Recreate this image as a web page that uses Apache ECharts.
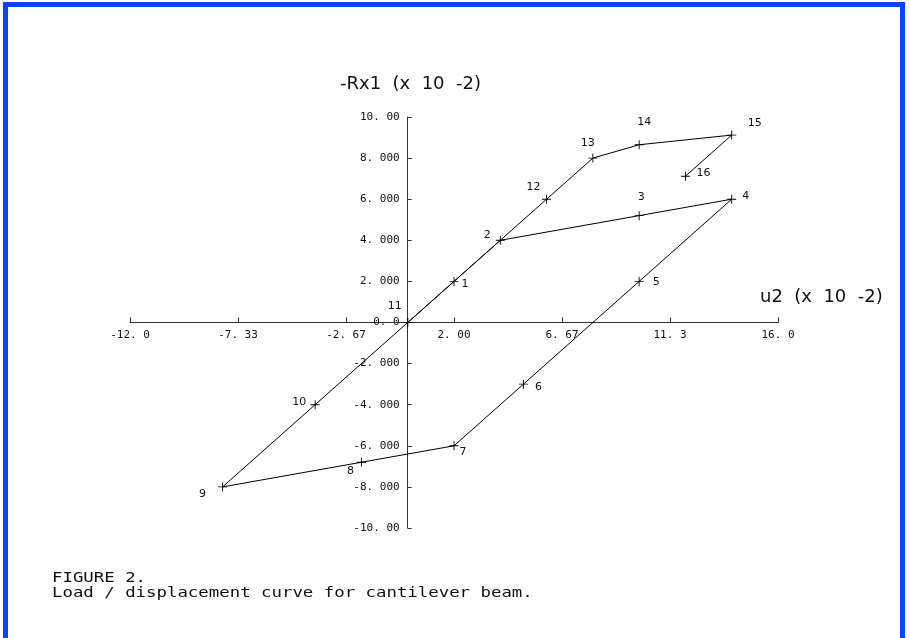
<!DOCTYPE html>
<html>
<head>
<meta charset="utf-8">
<script src="https://cdn.jsdelivr.net/npm/echarts@6/dist/echarts.min.js"></script>
<style>
html,body{margin:0;padding:0;background:#fff;}
#chart{width:910px;height:638px;}
</style>
</head>
<body>
<div id="chart"></div>
<script>
// ---- data ----
const xValues = [0, 2, 4, 10, 14, 10, 5, 2, -2, -8, -4, 0, 6, 8, 10, 14, 12];
const yValues = [0, 2, 4, 5.2, 6, 2, -3, -6, -6.8, -8, -4, 0, 6, 8, 8.65, 9.12, 7.12];
const pointLabels = ['', '1', '2', '3', '4', '5', '6', '7', '8', '9', '10', '11', '12', '13', '14', '15', '16'];
const xTicks = [-12, -7.3333, -2.6667, 2, 6.6667, 11.3333, 16];
const xTickLabels = ['-12. 0', '-7. 33', '-2. 67', '2. 00', '6. 67', '11. 3', '16. 0'];
const yTicks = [-10, -8, -6, -4, -2, 0, 2, 4, 6, 8, 10];
const yTickLabels = ['-10. 00', '-8. 000', '-6. 000', '-4. 000', '-2. 000', '0. 0', '2. 000', '4. 000', '6. 000', '8. 000', '10. 00'];
const xName = 'u2  (x  10  -2)';
const yName = '-Rx1  (x  10  -2)';
const captionLines = ['FIGURE 2.', 'Load / displacement curve for cantilever beam.'];

// ---- label placement (style only) ----
const labelOffsets = [[0,0],[11,3],[-13,-5],[2,-18],[14,-3],[17,1],[15,3],[9,6],[-11,9],[-20,7],[-16,-3],[-13,-16],[-13,-12],[-5,-15],[5,-23],[23,-12],[18,-3]];

function nearestLabel(v, ticks, labels){
  let bi = 0, bd = Infinity;
  ticks.forEach((t,i)=>{ const d = Math.abs(t - v); if(d < bd){bd = d; bi = i;} });
  return bd < 0.02 ? labels[bi] : '';
}

const seriesData = xValues.map((x, i) => ({
  value: [x, yValues[i]],
  label: {
    show: pointLabels[i] !== '',
    formatter: pointLabels[i],
    position: 'inside',
    offset: labelOffsets[i]
  }
}));

const chart = echarts.init(document.getElementById('chart'), null, {renderer: 'canvas'});
const tickFont = 'DejaVu Sans Mono';
const GRID = {left: 130, right: 132, top: 117, bottom: 110};
chart.setOption({
  animation: false,
  backgroundColor: '#ffffff',
  grid: Object.assign({containLabel: false}, GRID),
  xAxis: {
    type: 'value', min: -12, max: 16,
    splitLine: {show: false},
    axisLine: {onZero: false, lineStyle: {color: '#333', width: 1}},
    axisTick: {inside: true, length: 5, customValues: xTicks, lineStyle: {color: '#333'}},
    axisLabel: {
      customValues: xTicks, showMinLabel: true, showMaxLabel: true,
      formatter: v => nearestLabel(v, xTicks, xTickLabels),
      fontFamily: tickFont, fontSize: 11, color: '#111', margin: 7
    }
  },
  yAxis: {
    type: 'value', min: -10, max: 10,
    splitLine: {show: false},
    axisLine: {onZero: false, lineStyle: {color: '#333', width: 1}},
    axisTick: {inside: true, length: 4, customValues: yTicks, lineStyle: {color: '#333'}},
    axisLabel: {
      customValues: yTicks, showMinLabel: true, showMaxLabel: true,
      formatter: v => nearestLabel(v, yTicks, yTickLabels),
      fontFamily: tickFont, fontSize: 11, color: '#111', margin: 8
    }
  },
  series: [{
    type: 'line',
    data: seriesData,
    symbol: 'path://M4.5,0H5.5V4.5H10V5.5H5.5V10H4.5V5.5H0V4.5H4.5Z',
    symbolSize: 9,
    showAllSymbol: true,
    itemStyle: {color: '#000'},
    lineStyle: {color: '#000', width: 1},
    label: {fontFamily: 'DejaVu Sans', fontSize: 11, color: '#111'},
    emphasis: {disabled: true},
    z: 3
  }],
  graphic: [
    {type: 'rect', shape: {x: 5.5, y: 4.5, width: 897, height: 700}, style: {fill: 'none', stroke: '#0645ff', lineWidth: 5}, silent: true},
    {type: 'text', left: 340, top: 75, style: {text: yName, font: '18px "DejaVu Sans"', fill: '#111'}},
    {type: 'text', left: 760, top: 288, style: {text: xName, font: '18px "DejaVu Sans"', fill: '#111'}},
    {type: 'text', x: 52, y: 571, scaleX: 1.24, style: {text: captionLines.join('\n'), font: '14px "DejaVu Sans Mono"', lineHeight: 15, fill: '#111'}}
  ]
});

// Place each axis through the other axis's zero, using the library's own scale.
const origin = chart.convertToPixel({gridIndex: 0}, [0, 0]);
const H = 638, W = 910;
chart.setOption({
  xAxis: {offset: -((H - GRID.bottom) - origin[1])},
  yAxis: {offset: -(origin[0] - GRID.left)}
});
</script>
</body>
</html>
